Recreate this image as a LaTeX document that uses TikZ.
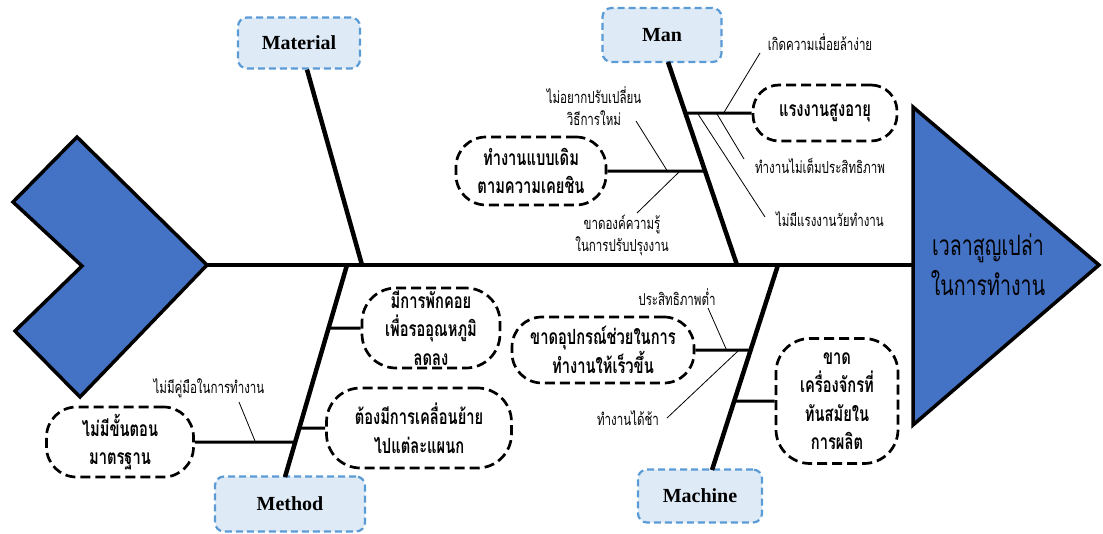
\documentclass[tikz,border=0pt]{standalone}
\usepackage{fontspec}
\setmainfont{Liberation Serif}
\newfontfamily\thai[Script=Thai,FakeStretch=0.7]{Loma}
\definecolor{headblue}{HTML}{4472C4}
\definecolor{catblue}{HTML}{5B9BD5}
\definecolor{catfill}{HTML}{DEEBF7}
\begin{document}
\begin{tikzpicture}[x=1pt,y=-1pt,
  cat/.style={draw=catblue, fill=catfill, dash pattern=on 7pt off 4pt, line width=2.2pt,
    rounded corners=9pt, inner sep=0pt, font=\fontsize{20}{24}\selectfont\bfseries},
  pill/.style={draw, dash pattern=on 10pt off 5pt, line width=2.7pt, align=center, inner sep=0pt,
    font=\thai\bfseries\fontsize{21}{28.5}\selectfont},
  lbl/.style={align=center, inner sep=0pt, font=\thai\fontsize{16.5}{22}\selectfont},
  headtxt/.style={align=center, inner sep=0pt, font=\thai\fontsize{28}{40}\selectfont},
  bone/.style={line width=4.5pt},
  spine/.style={line width=4pt},
  twig/.style={line width=3pt},
  thinl/.style={line width=0.8pt},
  fishpart/.style={fill=headblue, draw=black, line width=3.5pt, line join=miter}
]
\useasboundingbox (0,0) rectangle (1103,533);

% spine
\coordinate (spL) at (205,265);
\coordinate (spR) at (913,265);
\draw[spine] (spL) -- (spR);

% tail and head
\draw[fishpart] (77,137) -- (207,265) -- (80,397) -- (15,331) -- (82,266) -- (13,202) -- cycle;
\draw[fishpart] (913,107) -- (1099,265) -- (913,425) -- cycle;
\node[headtxt] (head) at (988,265) {เวลาสูญเปล่า\\ในการทำงาน};

% category boxes
\node[cat, minimum width=122pt, minimum height=51pt] (matb) at (299,43) {Material};
\node[cat, minimum width=119pt, minimum height=54pt] (manb) at (662,35) {Man};
\node[cat, minimum width=150pt, minimum height=55pt] (metb) at (290,504) {Method};
\node[cat, minimum width=124pt, minimum height=53pt] (macb) at (700,496) {Machine};

% bone ends on the spine
\coordinate (matS) at (362,265);
\coordinate (manS) at (737,265);
\coordinate (metS) at (347,265);
\coordinate (macS) at (778,265);
\coordinate (manT) at (668,62);
\coordinate (metB) at (285,477);
\coordinate (macB) at (712,470);

\draw[bone] ([xshift=8pt]matb.south) -- (matS);
\draw[bone] (manT) -- (manS);
\draw[bone] (metS) -- (metB);
\draw[bone] (macS) -- (macB);

% cause pills
\node[pill, minimum width=144pt, minimum height=56pt, rounded corners=26pt] (p1) at (825,113) {แรงงานสูงอายุ};
\node[pill, minimum width=150pt, minimum height=68pt, rounded corners=30pt] (p2) at (531,171) {ทำงานแบบเดิม\\ตามความเคยชิน};
\node[pill, minimum width=138pt, minimum height=80pt, rounded corners=34pt] (p3) at (431,328) {มีการพักคอย\\เพื่อรออุณหภูมิ\\ลดลง};
\node[pill, minimum width=185pt, minimum height=80pt, rounded corners=34pt] (p4) at (419,428) {ต้องมีการเคลื่อนย้าย\\ไปแต่ละแผนก};
\node[pill, minimum width=147pt, minimum height=70pt, rounded corners=30pt] (p5) at (120,442) {ไม่มีขั้นตอน\\มาตรฐาน};
\node[pill, minimum width=182pt, minimum height=66pt, rounded corners=30pt] (p6) at (603,350) {ขาดอุปกรณ์ช่วยในการ\\ทำงานให้เร็วขึ้น};
\node[pill, minimum width=122pt, minimum height=125pt, rounded corners=34pt] (p7) at (837,401) {ขาด\\เครื่องจักรที่\\ทันสมัยใน\\การผลิต};

% twigs from bones to pills
\draw[twig] (p1.west) -- (intersection of manT--manS and p1.west--p1.east) coordinate (j1);
\draw[twig] (p2.east) -- (intersection of manT--manS and p2.west--p2.east) coordinate (j2);
\draw[twig] (p3.west) -- (intersection of metS--metB and p3.west--p3.east) coordinate (j3);
\draw[twig] (p4.west) -- (intersection of metS--metB and p4.west--p4.east) coordinate (j4);
\draw[twig] (p5.east) -- (intersection of metS--metB and p5.west--p5.east) coordinate (j5);
\draw[twig] (p6.east) -- (intersection of macS--macB and p6.west--p6.east) coordinate (j6);
\draw[twig] (p7.west) -- (intersection of macS--macB and p7.west--p7.east) coordinate (j7);

% small cause labels
\node[lbl] (l1) at (820,42) {เกิดความเมื่อยล้าง่าย};
\node[lbl] (l2) at (820,166) {ทำงานไม่เต็มประสิทธิภาพ};
\node[lbl] (l3) at (830,219) {ไม่มีแรงงานวัยทำงาน};
\node[lbl] (l4) at (594,106) {ไม่อยากปรับเปลี่ยน\\วิธีการใหม่};
\node[lbl] (l5) at (622,235) {ขาดองค์ความรู้\\ในการปรับปรุงงาน};
\node[lbl] (l6) at (209,388) {ไม่มีคู่มือในการทำงาน};
\node[lbl] (l7) at (677,297) {ประสิทธิภาพต่ำ};
\node[lbl] (l8) at (628,418) {ทำงานได้ช้า};

% label line ends
\coordinate (a1) at (760,53);  \coordinate (b1) at (723,114);
\coordinate (a2) at (744,159); \coordinate (b2) at (717,114);
\coordinate (a3) at (765,217); \coordinate (b3) at (698,114);
\coordinate (a4) at (636,121); \coordinate (b4) at (668,172);
\coordinate (a5) at (637,213); \coordinate (b5) at (679,172);
\coordinate (a6) at (239,402); \coordinate (b6) at (255,441);
\coordinate (a7) at (708,308); \coordinate (b7) at (727,351);
\coordinate (a8) at (667,418); \coordinate (b8) at (738,351);

\draw[thinl] (a1) -- (b1);
\draw[thinl] (a2) -- (b2);
\draw[thinl] (a3) -- (b3);
\draw[thinl] (a4) -- (b4);
\draw[thinl] (a5) -- (b5);
\draw[thinl] (a6) -- (b6);
\draw[thinl] (a7) -- (b7);
\draw[thinl] (a8) -- (b8);
\end{tikzpicture}
\end{document}
